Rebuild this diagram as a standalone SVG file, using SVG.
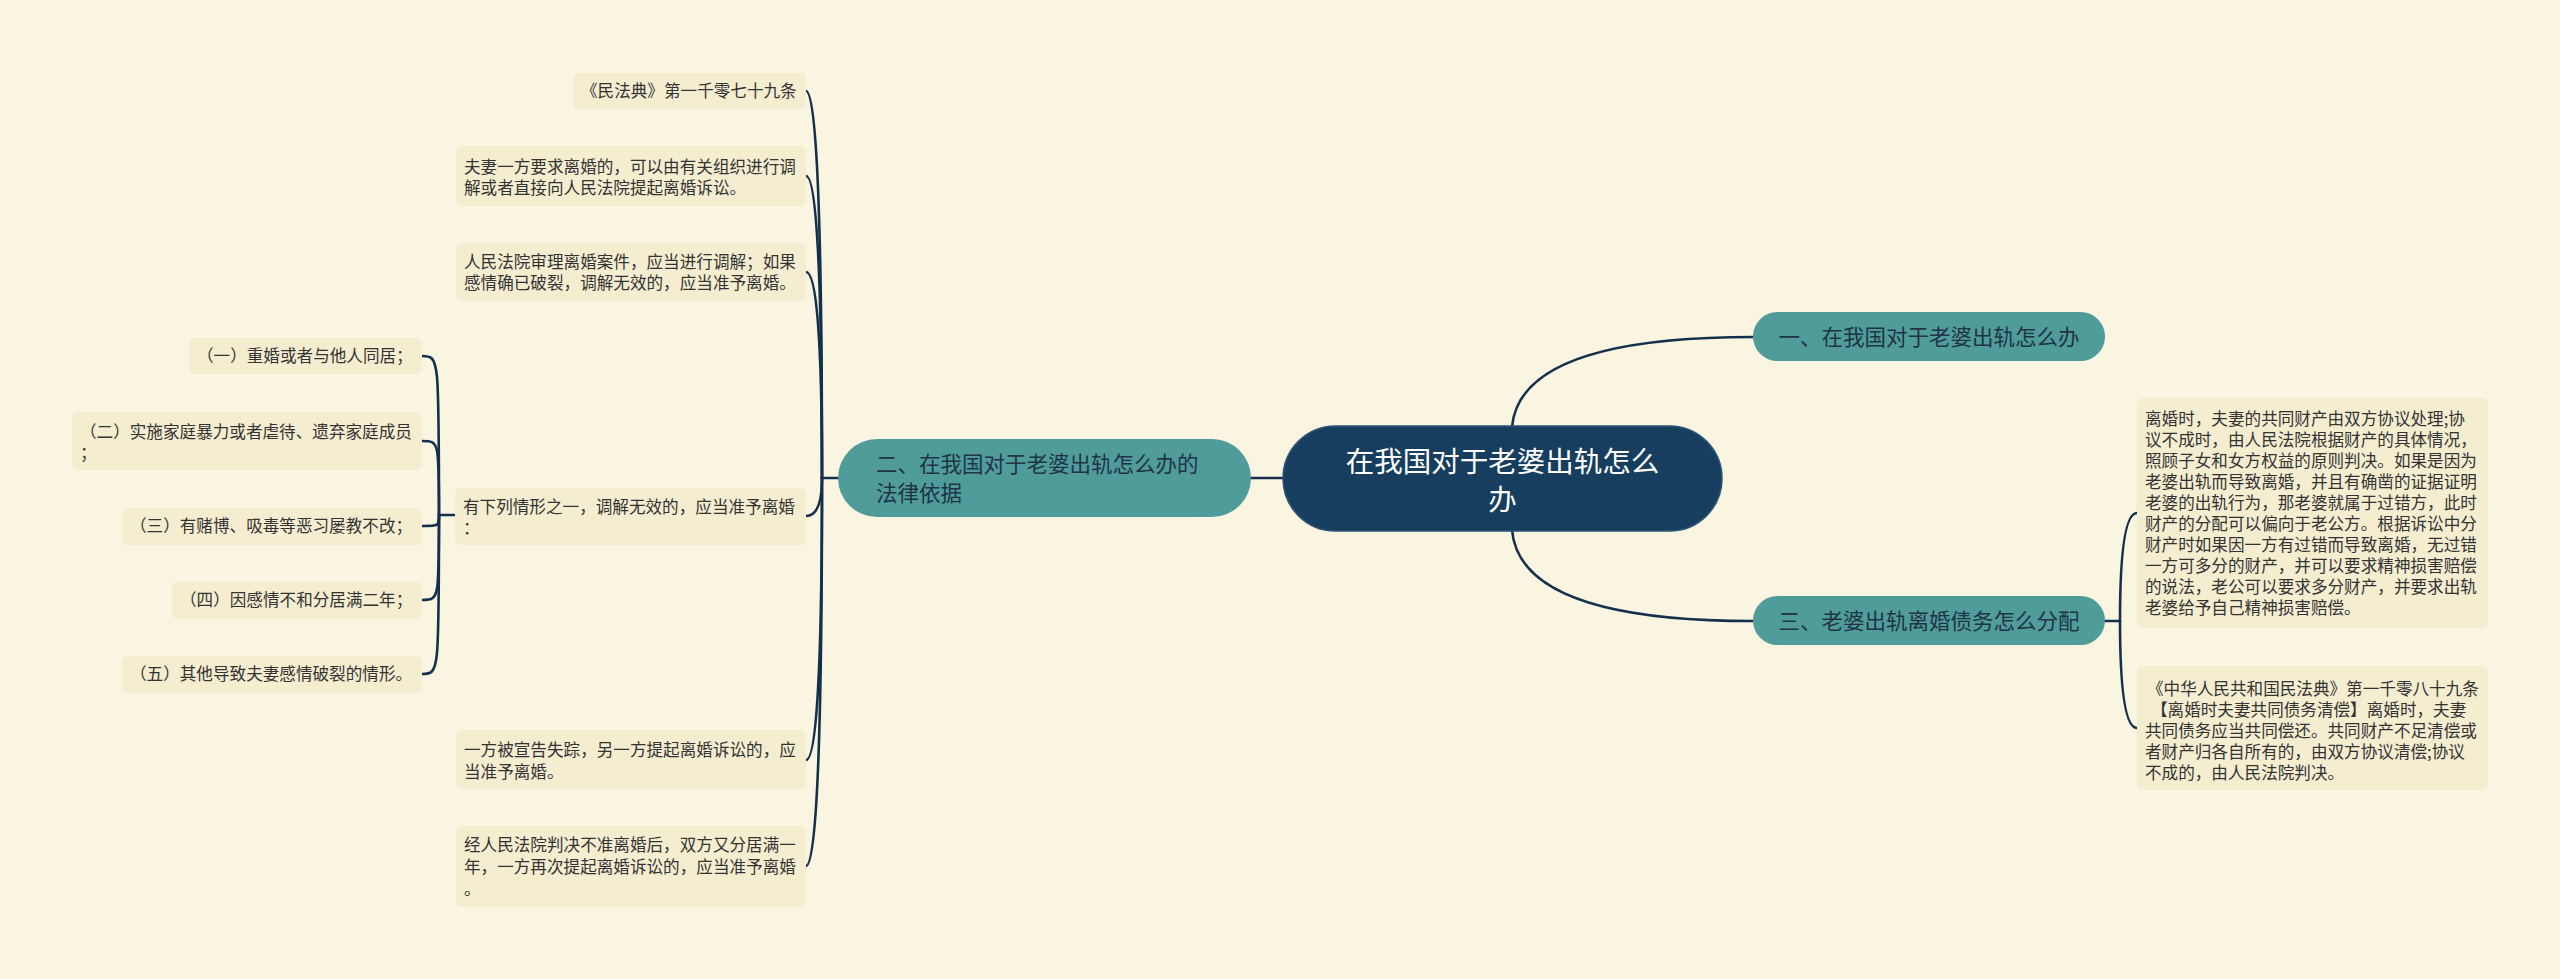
<svg xmlns="http://www.w3.org/2000/svg" width="2560" height="979" viewBox="0 0 2560 979">
<style>
text{font-family:"Noto Sans CJK SC","Noto Sans",sans-serif;}
.leaf{fill:#f4edd0;}
.lt{font-size:16.6px;fill:#333333;}
.br{fill:#4f9c9b;}
.bt{font-size:21.5px;fill:#1f3446;}
.root{fill:#173e5e;stroke:#2b5475;stroke-width:1.5;}
.rt{font-size:28.5px;fill:#ffffff;text-anchor:middle;}
.c{fill:none;stroke:#15304c;stroke-width:2.6;stroke-linecap:round;}
</style>
<rect width="2560" height="979" fill="#faf5e0"/>
<g id="connectors">
<path class="c" d="M1512 427 Q1520 337 1753 337"/>
<path class="c" d="M1512 530 Q1520 621 1753 621"/>
<path class="c" d="M1284 478 L1251 478"/>
<path class="c" d="M838 478 L822 478"/>
<path class="c" d="M822 478 Q822 91 806 91"/>
<path class="c" d="M822 478 Q822 176 806 176"/>
<path class="c" d="M822 478 Q822 272 806 272"/>
<path class="c" d="M822 478 Q822 516 806 516"/>
<path class="c" d="M822 478 Q822 760 806 760"/>
<path class="c" d="M822 478 Q822 866 806 866"/>
<path class="c" d="M455 515 L439 515"/>
<path class="c" d="M439 515 C439 356 439 356 422 356"/>
<path class="c" d="M439 515 C439 441 439 441 422 441"/>
<path class="c" d="M439 515 C439 526 439 526 422 526"/>
<path class="c" d="M439 515 C439 600 439 600 422 600"/>
<path class="c" d="M439 515 C439 674 439 674 422 674"/>
<path class="c" d="M2105 621 L2120 621"/>
<path class="c" d="M2120 621 Q2120 513 2137 513"/>
<path class="c" d="M2120 621 Q2120 728 2137 728"/>
</g>
<g id="root">
<rect class="root" x="1283" y="426" width="439" height="105" rx="52.5"/>
<text class="rt" x="1502.5" y="472">在我国对于老婆出轨怎么</text>
<text class="rt" x="1502.5" y="510">办</text>
</g>
<g id="branch1">
<rect class="br" x="1753" y="312" width="352" height="49" rx="24.5"/>
<text class="bt" x="1929" y="344.5" text-anchor="middle">一、在我国对于老婆出轨怎么办</text>
</g>
<g id="branch3">
<rect class="br" x="1753" y="596" width="352" height="49" rx="24.5"/>
<text class="bt" x="1929" y="628.5" text-anchor="middle">三、老婆出轨离婚债务怎么分配</text>
</g>
<g id="branch2">
<rect class="br" x="838" y="439" width="413" height="78" rx="39"/>
<text class="bt" x="876" y="472">二、在我国对于老婆出轨怎么办的</text>
<text class="bt" x="876" y="501">法律依据</text>
</g>
<g id="n_minfadian">
<rect class="leaf" x="573" y="73" width="233" height="36" rx="6"/>
<text class="lt" x="581" y="97">《民法典》第一千零七十九条</text>
</g>
<g id="n_fuqi">
<rect class="leaf" x="456" y="146" width="350" height="60" rx="6"/>
<text class="lt" x="464" y="173">夫妻一方要求离婚的，可以由有关组织进行调</text>
<text class="lt" x="464" y="194">解或者直接向人民法院提起离婚诉讼。</text>
</g>
<g id="n_shenli">
<rect class="leaf" x="456" y="243" width="350" height="58" rx="6"/>
<text class="lt" x="464" y="268">人民法院审理离婚案件，应当进行调解；如果</text>
<text class="lt" x="464" y="289">感情确已破裂，调解无效的，应当准予离婚。</text>
</g>
<g id="n_qingxing">
<rect class="leaf" x="455" y="488" width="351" height="57" rx="6"/>
<text class="lt" x="463" y="513">有下列情形之一，调解无效的，应当准予离婚</text>
<text class="lt" x="463" y="534">：</text>
</g>
<g id="n_shizong">
<rect class="leaf" x="456" y="730" width="350" height="59" rx="6"/>
<text class="lt" x="464" y="756">一方被宣告失踪，另一方提起离婚诉讼的，应</text>
<text class="lt" x="464" y="778">当准予离婚。</text>
</g>
<g id="n_panjue">
<rect class="leaf" x="456" y="826" width="350" height="81" rx="6"/>
<text class="lt" x="464" y="851">经人民法院判决不准离婚后，双方又分居满一</text>
<text class="lt" x="464" y="873">年，一方再次提起离婚诉讼的，应当准予离婚</text>
<text class="lt" x="464" y="895">。</text>
</g>
<g id="n_q1">
<rect class="leaf" x="189" y="338" width="233" height="36" rx="6"/>
<text class="lt" x="197" y="362">（一）重婚或者与他人同居；</text>
</g>
<g id="n_q2">
<rect class="leaf" x="72" y="412" width="350" height="58" rx="6"/>
<text class="lt" x="80" y="438">（二）实施家庭暴力或者虐待、遗弃家庭成员</text>
<text class="lt" x="80" y="459">；</text>
</g>
<g id="n_q3">
<rect class="leaf" x="122" y="508" width="300" height="37" rx="6"/>
<text class="lt" x="130" y="532">（三）有赌博、吸毒等恶习屡教不改；</text>
</g>
<g id="n_q4">
<rect class="leaf" x="172" y="582" width="250" height="37" rx="6"/>
<text class="lt" x="180" y="606">（四）因感情不和分居满二年；</text>
</g>
<g id="n_q5">
<rect class="leaf" x="122" y="656" width="300" height="37" rx="6"/>
<text class="lt" x="130" y="680">（五）其他导致夫妻感情破裂的情形。</text>
</g>
<g id="n_caichan">
<rect class="leaf" x="2137" y="398" width="351" height="230" rx="6"/>
<text class="lt" x="2145" y="425">离婚时，夫妻的共同财产由双方协议处理;协</text>
<text class="lt" x="2145" y="446">议不成时，由人民法院根据财产的具体情况，</text>
<text class="lt" x="2145" y="467">照顾子女和女方权益的原则判决。如果是因为</text>
<text class="lt" x="2145" y="488">老婆出轨而导致离婚，并且有确凿的证据证明</text>
<text class="lt" x="2145" y="509">老婆的出轨行为，那老婆就属于过错方，此时</text>
<text class="lt" x="2145" y="530">财产的分配可以偏向于老公方。根据诉讼中分</text>
<text class="lt" x="2145" y="551">财产时如果因一方有过错而导致离婚，无过错</text>
<text class="lt" x="2145" y="572">一方可多分的财产，并可以要求精神损害赔偿</text>
<text class="lt" x="2145" y="593">的说法，老公可以要求多分财产，并要求出轨</text>
<text class="lt" x="2145" y="614">老婆给予自己精神损害赔偿。</text>
</g>
<g id="n_zhaiwu">
<rect class="leaf" x="2137" y="666" width="351" height="124" rx="6"/>
<text class="lt" x="2147" y="695">《中华人民共和国民法典》第一千零八十九条</text>
<text class="lt" x="2151" y="716">【离婚时夫妻共同债务清偿】离婚时，夫妻</text>
<text class="lt" x="2145" y="737">共同债务应当共同偿还。共同财产不足清偿或</text>
<text class="lt" x="2145" y="758">者财产归各自所有的，由双方协议清偿;协议</text>
<text class="lt" x="2145" y="779">不成的，由人民法院判决。</text>
</g>
</svg>
